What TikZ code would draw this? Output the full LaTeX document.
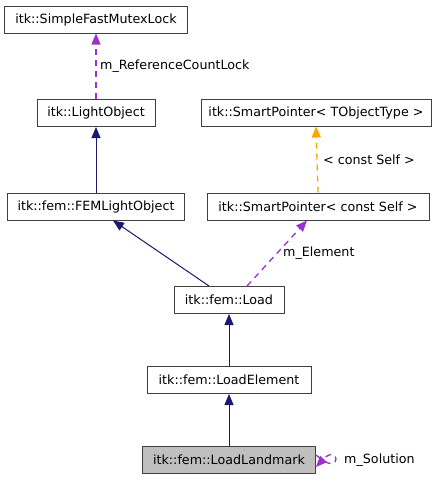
\documentclass[tikz,border=0pt]{standalone}
\usepackage{fontspec}
\setmainfont{DejaVu Sans}
\usetikzlibrary{arrows.meta}
\definecolor{navy}{HTML}{191970}
\definecolor{orchid}{HTML}{9A32CD}
\definecolor{orng}{HTML}{FFA500}
\definecolor{boxline}{HTML}{404040}
\definecolor{boxfill}{HTML}{BFBFBF}
\tikzset{
  cls/.style={draw=boxline, line width=1pt, fill=white, inner sep=0pt, minimum height=27pt, font=\fontsize{12.7pt}{14pt}\selectfont},
  inh/.style={draw=navy, line width=1pt, -{Triangle[length=11pt,width=9pt]}},
  usage/.style={draw=orchid, line width=1.3pt, dash pattern=on 6pt off 5pt, -{Triangle[length=11pt,width=9pt]}},
  tmpl/.style={draw=orng, line width=1.3pt, dash pattern=on 6pt off 5pt, -{Triangle[length=11pt,width=9pt]}},
  lbl/.style={inner sep=0pt, anchor=west, font=\fontsize{12.7pt}{14pt}\selectfont}
}
\begin{document}
\begin{tikzpicture}[x=1pt,y=-1pt]
\useasboundingbox (0,0) rectangle (441,480);
\node[cls, minimum width=183pt] (A) at (96,19.5) {itk::SimpleFastMutexLock};
\node[cls, minimum width=118pt] (B) at (96,113) {itk::LightObject};
\node[cls, minimum width=177pt] (C) at (96,206.5) {itk::fem::FEMLightObject};
\node[cls, minimum width=230pt] (D) at (316,112.5) {itk::SmartPointer< TObjectType >};
\node[cls, minimum width=222pt] (E) at (318,206.5) {itk::SmartPointer< const Self >};
\node[cls, minimum width=110pt] (F) at (229,300) {itk::fem::Load};
\node[cls, minimum width=164pt] (G) at (229,380) {itk::fem::LoadElement};
\node[cls, minimum width=173pt, fill=boxfill] (H) at (229,460) {itk::fem::LoadLandmark};

\draw[usage] (B.north) -- (A.south);
\node[lbl] (lA) at (100,66) {m\_ReferenceCountLock};
\draw[inh] (C.north) -- (B.south);
\draw[inh] ([xshift=-20pt]F.north) -- ([xshift=17pt]C.south);
\draw[usage] ([xshift=18pt]F.north) -- ([xshift=-11pt]E.south);
\node[lbl] (lE) at (283,253) {m\_Element};
\draw[tmpl] (E.north) -- (D.south);
\node[lbl] (lD) at (323,160) {< const Self >};
\draw[inh] (G.north) -- (F.south);
\draw[inh] (H.north) -- (G.south);
\coordinate (loopR) at (336,459);
\draw[usage] ([yshift=5pt]H.east) .. controls (330,467) and (336,465) .. (loopR) .. controls (336,454) and (330,452) .. ([yshift=-7pt]H.east);
\node[lbl] (lH) at (344,460) {m\_Solution};
\end{tikzpicture}
\end{document}
